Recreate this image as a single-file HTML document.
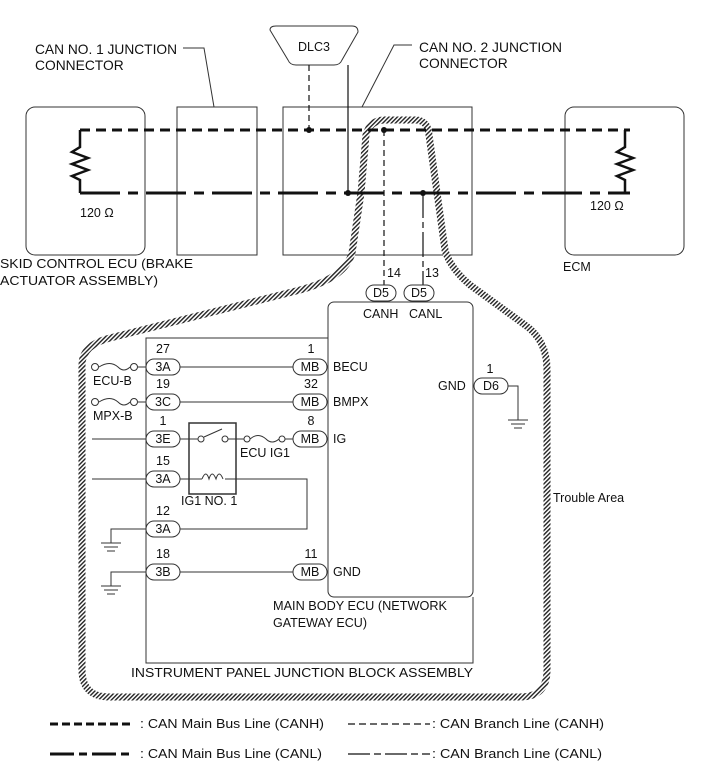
<!DOCTYPE html>
<html><head><meta charset="utf-8"><style>
html,body{margin:0;padding:0;background:#fff}
svg{display:block}
text{font-family:"Liberation Sans",Arial,sans-serif;font-size:12.5px;fill:#111}
.t{font-size:13.8px}
</style></head><body>
<svg width="711" height="781" viewBox="0 0 711 781" xmlns="http://www.w3.org/2000/svg">
<defs>
<pattern id="h" width="3" height="3" patternUnits="userSpaceOnUse" patternTransform="rotate(45)">
<rect width="3" height="3" fill="#fff"/><rect width="1.4" height="3" fill="#222"/></pattern>
</defs>
<g fill="none" stroke="#333" stroke-width="1">
<rect x="26" y="107" width="119" height="148" rx="9"/>
<rect x="177" y="107" width="80" height="148"/>
<rect x="283" y="107" width="189" height="148"/>
<rect x="565" y="107" width="119" height="148" rx="9"/>
<path d="M270 30 Q270 26 276 26 L352 26 Q358 26 358 32 L342 60 Q340 65 334 65 L296 65 Q290 65 288 60 Z"/>
<polyline points="183,48 204,48 214,107"/>
<polyline points="412,45 394,45 362,107"/>
<rect x="328" y="302" width="145" height="295" rx="6"/>
<polyline points="146,597 146,338 328,338"/>
<polyline points="473,597 473,663 146,663 146,597"/>
</g>
<path d="M352 253 L361 193 L366 135 Q370 120 385 120 L415 120 Q428 120 429 135 L445 250 Q450 268 470 285 L525 325 Q547 340 547 370 L547 670 Q547 697 520 697 L110 697 Q82 697 82 670 L82 365 Q82 345 110 338 L300 290 Q345 278 352 253 Z" fill="none" stroke="url(#h)" stroke-width="7"/>
<g stroke="#111" fill="none">
<path d="M80 130 L630 130" stroke-width="3" stroke-dasharray="10,6"/>
<path d="M80 193 L630 193" stroke-width="3" stroke-dasharray="40,8,10,8"/>
<path d="M80 130 L80 147 L72 152 L88 158 L72 164 L88 170 L72 176 L80 180 L80 193" stroke-width="2.5"/>
<path d="M625 130 L625 147 L617 152 L633 158 L617 164 L633 170 L617 176 L625 180 L625 193" stroke-width="2.5"/>
<path d="M309 65 L309 130" stroke-width="1.2" stroke-dasharray="6,4"/>
<path d="M348 65 L348 193" stroke-width="1.2"/>
<path d="M384 130 L384 285" stroke-width="1.2" stroke-dasharray="6,4"/>
<path d="M423 193 L423 285" stroke-width="1.2" stroke-dasharray="25,4,6,4"/>
</g>
<g fill="#111"><circle cx="309" cy="130" r="3"/><circle cx="348" cy="193" r="3"/><circle cx="384" cy="130" r="3"/><circle cx="423" cy="193" r="3"/></g>
<g stroke="#333" fill="#fff" stroke-width="1">
<rect x="366" y="285" width="30" height="16" rx="8"/><rect x="404" y="285" width="30" height="16" rx="8"/>
<rect x="146" y="359" width="34" height="16" rx="8"/><rect x="146" y="394" width="34" height="16" rx="8"/>
<rect x="146" y="431" width="34" height="16" rx="8"/><rect x="146" y="471" width="34" height="16" rx="8"/>
<rect x="146" y="521" width="34" height="16" rx="8"/><rect x="146" y="564" width="34" height="16" rx="8"/>
<rect x="293" y="359" width="34" height="16" rx="8"/><rect x="293" y="394" width="34" height="16" rx="8"/>
<rect x="293" y="431" width="34" height="16" rx="8"/><rect x="293" y="564" width="34" height="16" rx="8"/>
<rect x="474" y="378" width="34" height="16" rx="8"/>
</g>
<g stroke="#333" fill="none" stroke-width="1">
<path d="M180 367 L293 367 M180 402 L293 402 M180 572 L293 572"/>
<path d="M99 367 Q110 360 118 367 Q124 373 130 367"/><circle cx="95" cy="367" r="3.5"/><circle cx="134" cy="367" r="3.5"/><path d="M138 367 L146 367"/>
<path d="M99 402 Q110 395 118 402 Q124 408 130 402"/><circle cx="95" cy="402" r="3.5"/><circle cx="134" cy="402" r="3.5"/><path d="M138 402 L146 402"/>
<path d="M92 439 L146 439 M92 479 L146 479 M180 439 L198 439 M228 439 L244 439 M250 439 Q258 432 266 439 Q272 445 279 439 M285 439 L293 439"/>
<circle cx="201" cy="439" r="3"/><circle cx="225" cy="439" r="3"/><path d="M204 437 L222 429"/>
<circle cx="247" cy="439" r="3"/><circle cx="282" cy="439" r="3"/>
<rect x="189" y="423" width="47" height="71" stroke-width="1.5"/>
<path d="M180 479 L202 479 M225 479 L307 479 L307 529 L180 529"/>
<path d="M202 479 q4 -10 7 0 q3 -10 7 0 q3 -10 7 0" />
<path d="M146 529 L111 529 L111 543 M101 543 L121 543 M104 547 L118 547 M107 551 L115 551"/>
<path d="M146 572 L111 572 L111 586 M101 586 L121 586 M104 590 L118 590 M107 594 L115 594"/>
<path d="M508 386 L518 386 L518 420 M508 420 L528 420 M511 424 L525 424 M514 428 L522 428"/>
</g>
<g text-anchor="middle">
<text x="314" y="51">DLC3</text>
<text x="381" y="297">D5</text><text x="419" y="297">D5</text>
<text x="163" y="371">3A</text><text x="163" y="406">3C</text><text x="163" y="443">3E</text>
<text x="163" y="483">3A</text><text x="163" y="533">3A</text><text x="163" y="576">3B</text>
<text x="310" y="371">MB</text><text x="310" y="406">MB</text><text x="310" y="443">MB</text><text x="310" y="576">MB</text>
<text x="491" y="390">D6</text>
<text x="163" y="353">27</text><text x="163" y="388">19</text><text x="163" y="425">1</text>
<text x="163" y="465">15</text><text x="163" y="515">12</text><text x="163" y="558">18</text>
<text x="311" y="353">1</text><text x="311" y="388">32</text><text x="311" y="425">8</text><text x="311" y="558">11</text>
<text x="490" y="373">1</text>
</g>
<text class="t" x="35" y="54" textLength="142" lengthAdjust="spacingAndGlyphs">CAN NO. 1 JUNCTION</text><text class="t" x="35" y="70">CONNECTOR</text>
<text class="t" x="419" y="52" textLength="143" lengthAdjust="spacingAndGlyphs">CAN NO. 2 JUNCTION</text><text class="t" x="419" y="68">CONNECTOR</text>
<text x="80" y="217">120 Ω</text><text x="590" y="210">120 Ω</text>
<text x="0" y="268" textLength="193" lengthAdjust="spacingAndGlyphs">SKID CONTROL ECU (BRAKE</text><text x="0" y="285" textLength="158" lengthAdjust="spacingAndGlyphs">ACTUATOR ASSEMBLY)</text>
<text x="563" y="271">ECM</text>
<text x="387" y="277">14</text><text x="425" y="277">13</text>
<text x="363" y="318">CANH</text><text x="409" y="318">CANL</text>
<text x="333" y="371">BECU</text><text x="333" y="406">BMPX</text><text x="333" y="443">IG</text><text x="333" y="576">GND</text>
<text x="438" y="390">GND</text>
<text x="93" y="385">ECU-B</text><text x="93" y="420">MPX-B</text>
<text x="240" y="457">ECU IG1</text><text x="181" y="505">IG1 NO. 1</text>
<text x="553" y="502">Trouble Area</text>
<text x="273" y="610" textLength="174" lengthAdjust="spacingAndGlyphs">MAIN BODY ECU (NETWORK</text><text x="273" y="627">GATEWAY ECU)</text>
<text x="131" y="677" textLength="342" lengthAdjust="spacingAndGlyphs">INSTRUMENT PANEL JUNCTION BLOCK ASSEMBLY</text>
<g stroke="#111" fill="none">
<path d="M50 724 L134 724" stroke-width="3" stroke-dasharray="8,4"/>
<path d="M50 754 L134 754" stroke-width="3" stroke-dasharray="24,5,8,5"/>
<path d="M348 724 L430 724" stroke-width="1.2" stroke-dasharray="7,4"/>
<path d="M348 754 L430 754" stroke-width="1.2" stroke-dasharray="22,4,7,4"/>
</g>
<text x="140" y="728" textLength="184" lengthAdjust="spacingAndGlyphs">: CAN Main Bus Line (CANH)</text>
<text x="140" y="758" textLength="182" lengthAdjust="spacingAndGlyphs">: CAN Main Bus Line (CANL)</text>
<text x="432" y="728" textLength="172" lengthAdjust="spacingAndGlyphs">: CAN Branch Line (CANH)</text>
<text x="432" y="758" textLength="170" lengthAdjust="spacingAndGlyphs">: CAN Branch Line (CANL)</text>
</svg>
</body></html>
